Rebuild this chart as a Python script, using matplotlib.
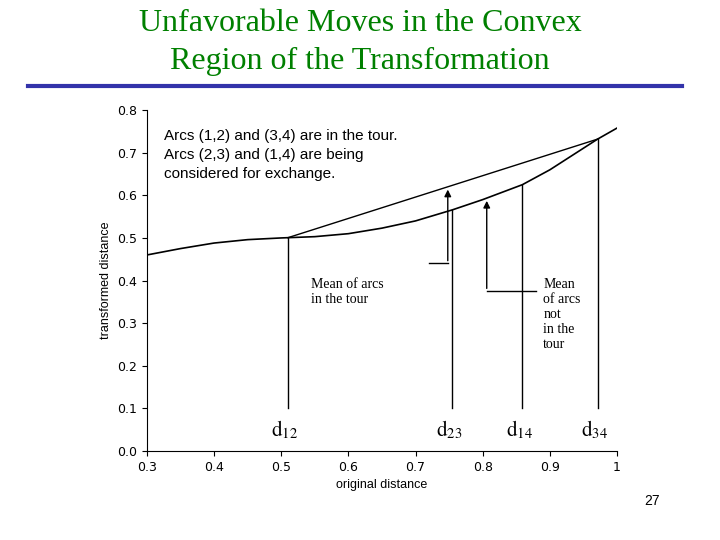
import matplotlib
matplotlib.use("Agg")
import matplotlib.pyplot as plt
import numpy as np

plt.rcParams["mathtext.fontset"] = "stix"

curve_x = [0.30, 0.35, 0.40, 0.45, 0.50, 0.55, 0.60, 0.65, 0.70, 0.755, 0.80, 0.859, 0.90, 0.971, 1.00]
curve_y = [0.460, 0.475, 0.488, 0.496, 0.500, 0.503, 0.510, 0.523, 0.540, 0.566, 0.590, 0.625, 0.660, 0.732, 0.758]
d_labels = ["d12", "d23", "d14", "d34"]
d_x = [0.51, 0.755, 0.859, 0.971]
xticks = [0.3, 0.4, 0.5, 0.6, 0.7, 0.8, 0.9, 1.0]
yticks = [0.0, 0.1, 0.2, 0.3, 0.4, 0.5, 0.6, 0.7, 0.8]

fig = plt.figure(figsize=(7.2, 5.4), dpi=100)
fig.text(0.5, 0.983, "Unfavorable Moves in the Convex\nRegion of the Transformation", ha="center", va="top",
         color="#008000", fontsize=23, family="Liberation Serif", linespacing=1.4)
fig.add_artist(plt.Line2D([0.039, 0.947], [0.84, 0.84], color="#3333aa", lw=3))
fig.text(0.905, 0.065, "27", fontsize=10, ha="center", family="Liberation Sans")

ax = fig.add_axes([0.204, 0.165, 0.653, 0.631])
ax.set_xlim(0.3, 1.0)
ax.set_ylim(0, 0.8)
ax.plot(curve_x, curve_y, color="black", lw=1.2)
ax.spines["top"].set_visible(False)
ax.spines["right"].set_visible(False)
ax.set_xticks(xticks)
ax.set_xticklabels([("%g" % t) if t < 1 else "1" for t in xticks])
ax.set_yticks(yticks)
ax.set_yticklabels(["%.1f" % t for t in yticks])
ax.tick_params(labelsize=9)
ax.set_xlabel("original distance", fontsize=9, family="Liberation Sans")
ax.set_ylabel("transformed distance", fontsize=9, family="Liberation Sans")

yc = np.interp(d_x, curve_x, curve_y)
ax.plot([d_x[0], d_x[3]], [yc[0], yc[3]], color="black", lw=1)
for xv, yv, lab in zip(d_x, yc, d_labels):
    ax.plot([xv, xv], [0.1, yv], color="black", lw=1)
    ax.text(xv - 0.005, 0.05, "$\\mathrm{" + lab[0] + "}_{\\mathrm{" + lab[1:] + "}}$", fontsize=15,
            ha="center", va="center")

chord_at = lambda x: yc[0] + (yc[3] - yc[0]) * (x - d_x[0]) / (d_x[3] - d_x[0])
xa1 = 0.748
ax.plot([0.72, xa1], [0.44, 0.44], color="black", lw=1)
ax.annotate("", xy=(xa1, chord_at(xa1)), xytext=(xa1, 0.44),
            arrowprops=dict(arrowstyle="-|>", color="black", lw=1))
xa2 = 0.806
ax.plot([xa2, 0.88], [0.375, 0.375], color="black", lw=1)
ax.annotate("", xy=(xa2, float(np.interp(xa2, curve_x, curve_y))), xytext=(xa2, 0.375),
            arrowprops=dict(arrowstyle="-|>", color="black", lw=1))

ax.text(0.545, 0.405, "Mean of arcs\nin the tour", fontsize=10, family="Liberation Serif", va="top")
ax.text(0.89, 0.405, "Mean\nof arcs\nnot\nin the\ntour", fontsize=10, family="Liberation Serif", va="top")
ax.text(0.325, 0.755, "Arcs (1,2) and (3,4) are in the tour.\nArcs (2,3) and (1,4) are being\nconsidered for exchange.",
        fontsize=11, family="Liberation Sans", va="top", linespacing=1.45)

fig.savefig("out.png", dpi=100)
